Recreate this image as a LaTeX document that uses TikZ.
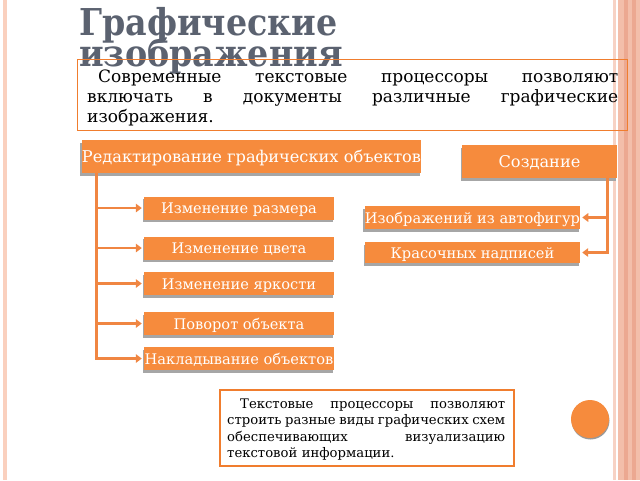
\documentclass[tikz,border=0pt]{standalone}
\usepackage{fontspec}
\setmainfont{DejaVu Serif}
\newfontfamily\titlefont{DejaVu Serif Condensed}
\usetikzlibrary{arrows.meta,shadows}
\definecolor{orfill}{RGB}{246,139,61}
\definecolor{orline}{RGB}{240,125,46}
\definecolor{orarrow}{RGB}{240,134,66}
\definecolor{ttl}{RGB}{91,98,112}
\definecolor{stripeL}{RGB}{250,208,190}
\definecolor{stripeR}{RGB}{243,190,170}
\definecolor{stripeD}{RGB}{236,168,145}
\begin{document}
\begin{tikzpicture}[x=1pt,y=-1pt,
  labelbox/.style={fill=orfill, text=white, inner sep=0pt,
    font=\fontsize{14.6}{16}\selectfont, text height=13pt, text depth=2pt,
    drop shadow={shadow xshift=-1.5pt, shadow yshift=-2.5pt, fill=black!35, opacity=1}},
  headbox/.style={labelbox, font=\fontsize{16.2}{18}\selectfont, text height=14pt, text depth=3pt},
  frame/.style={draw=orline, line width=1.4pt, inner sep=0pt},
  conn/.style={draw=orarrow, line width=2.6pt},
  arr/.style={conn, -{Triangle[length=6pt,width=8.5pt]}, shorten >=2pt},
  titletext/.style={anchor=base west, inner sep=0pt, text=ttl,
    font=\titlefont\bfseries\fontsize{37}{37}\selectfont}
]
\useasboundingbox (0,0) rectangle (640,480);
% page stripes
\fill[stripeL] (3,0) rectangle (7,480);
\fill[stripeR!70] (613,0) rectangle (615.5,480);
\fill[stripeR] (618,0) rectangle (640,480);
\fill[stripeD] (624,0) rectangle (628,480);
\fill[stripeD] (632,0) rectangle (636,480);

% title
\node[titletext] (t1) at (79,35) {Графические};
\node[titletext] (t2) at (79,66) {изображения};

% intro paragraph
\node[frame, anchor=north west, minimum width=550, minimum height=71] (intro) at (77,59) {};
\node[anchor=north west, inner sep=0pt, text width=531pt,
  font=\fontsize{17}{20}\selectfont] (introtext) at (87,68)
 {\strut\hspace*{11pt}Современные\hfill текстовые\hfill процессоры\hfill позволяют\\
  включать\hfill в\hfill документы\hfill различные\hfill графические\\
  изображения.};

% headers
\node[headbox, minimum width=337, minimum height=33] (edit) at (251.5,156.5) {Редактирование графических объектов};
\node[headbox, minimum width=155, minimum height=33] (create) at (539.5,161.5) {Создание};

% left items
\node[labelbox, minimum width=190, minimum height=23] (b1) at (239,208) {Изменение размера};
\node[labelbox, minimum width=190, minimum height=23] (b2) at (239,248) {Изменение цвета};
\node[labelbox, minimum width=190, minimum height=23] (b3) at (239,283.5) {Изменение яркости};
\node[labelbox, minimum width=190, minimum height=23] (b4) at (239,323.5) {Поворот объекта};
\node[labelbox, minimum width=190, minimum height=23] (b5) at (239,358.5) {Накладывание объектов};

% right items
\node[labelbox, minimum width=215, minimum height=23] (c1) at (472.5,217.5) {Изображений из автофигур};
\node[labelbox, minimum width=215, minimum height=21] (c2) at (472.5,252.5) {Красочных надписей};

% connectors left
\coordinate (lv) at ([xshift=15pt]edit.south west);
\draw[arr] (lv) |- (b5.west);
\foreach \b in {b1,b2,b3,b4} \draw[arr] (lv |- \b.west) -- (\b.west);

% connectors right
\coordinate (rv) at ([xshift=-10pt]create.south east);
\draw[arr] (rv) |- (c2.east);
\draw[arr] (rv |- c1.east) -- (c1.east);

% bottom note
\node[frame, line width=1.8pt, anchor=north west, minimum width=294, minimum height=76] (note) at (219,389) {};
\node[anchor=north west, inner sep=0pt, text width=278pt,
  font=\fontsize{13.2}{16.5}\selectfont] (notetext) at (227,396.5)
 {\strut\hspace*{13pt}Текстовые\hfill процессоры\hfill позволяют\\
  строить\hfill разные\hfill виды\hfill графических\hfill схем\\
  обеспечивающих\hfill визуализацию\\
  текстовой информации.};

% decorative dot
\node[circle, fill=orfill, minimum size=38pt, inner sep=0pt,
  drop shadow={shadow xshift=0.5pt, shadow yshift=-1.5pt, fill=black!40, opacity=1}] (dot) at (590,419) {};
\end{tikzpicture}
\end{document}
